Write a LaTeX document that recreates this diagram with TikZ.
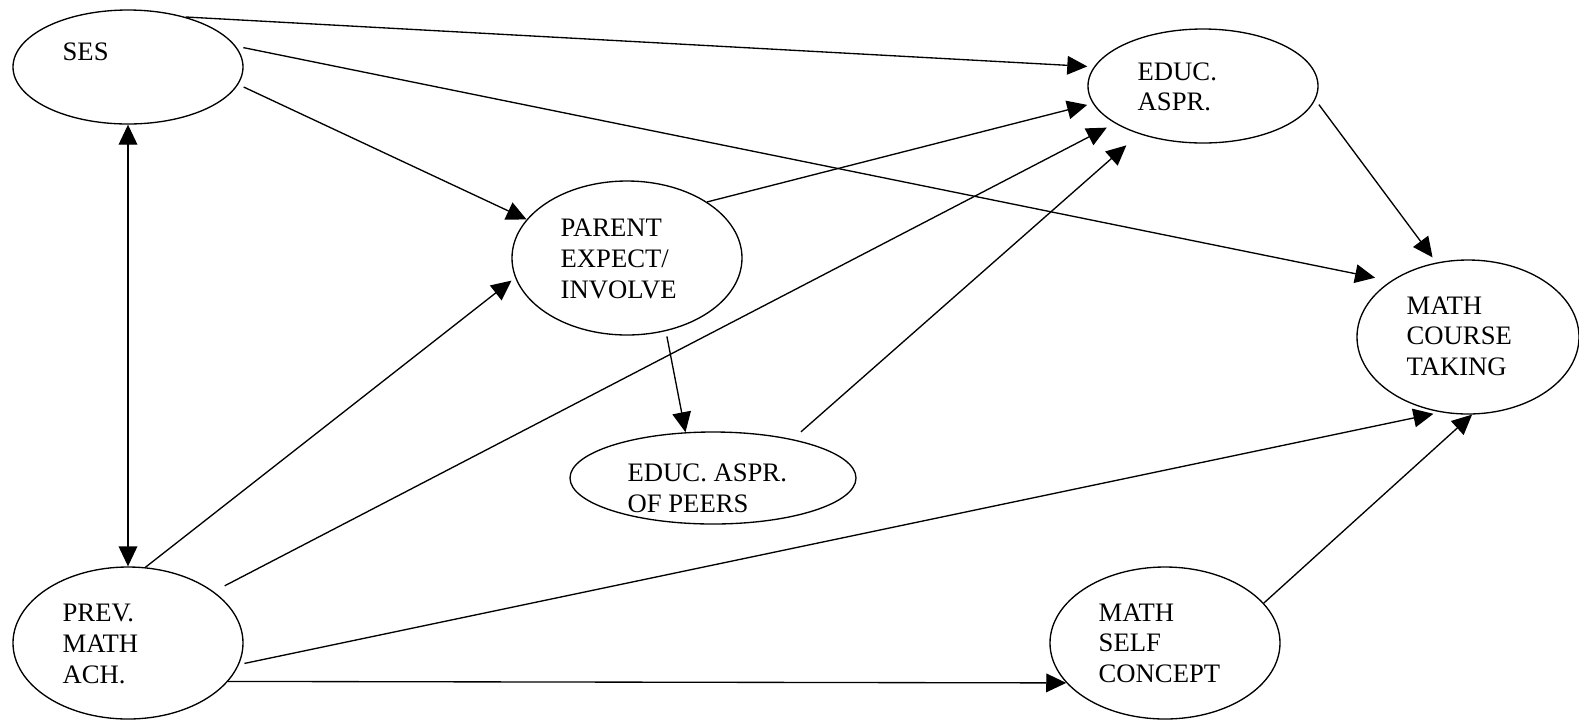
\documentclass[tikz,border=0pt]{standalone}
\usepackage{fontspec}
\setmainfont{Liberation Serif}
\usetikzlibrary{shapes.geometric,arrows.meta}

\tikzset{every picture/.style={line width=1pt}}

\begin{document}
\begin{tikzpicture}[x=0.75pt,y=0.75pt,yscale=-1,xscale=1,
	var/.style={draw,ellipse,inner sep=0pt},
	txt/.style={anchor=west,inner sep=0pt,align=left,font=\fontsize{20}{23}\selectfont},
	link/.style={-{Triangle[length=15pt,width=14pt]}},
	twoway/.style={{Triangle[length=15pt,width=14pt]}-{Triangle[length=15pt,width=14pt]}}]
	\useasboundingbox (0,0) rectangle (1579,719);
	%Ellipses
	\node [var, minimum width=172.5pt, minimum height=85.5pt] (ses) at (128,67) {};
	\node [var, minimum width=172.5pt, minimum height=85.5pt] (educ) at (1203,86) {};
	\node [var, minimum width=172.5pt, minimum height=115.5pt] (parent) at (627,258) {};
	\node [var, minimum width=166.5pt, minimum height=115.5pt] (mct) at (1468,337) {};
	\node [var, minimum width=214.5pt, minimum height=69pt] (peers) at (713,478) {};
	\node [var, minimum width=172.5pt, minimum height=114pt] (prev) at (128,643) {};
	\node [var, minimum width=172.5pt, minimum height=114pt] (msc) at (1165,643) {};
	%Labels
	\node [txt] (t-ses) at (62,52) {SES};
	\node [txt] (t-educ) at (1137,87) {EDUC.\\ASPR.};
	\node [txt] (t-parent) at (560,259) {PARENT\\EXPECT/\\INVOLVE};
	\node [txt] (t-mct) at (1406,336) {MATH\\COURSE\\TAKING};
	\node [txt] (t-peers) at (627,488) {EDUC. ASPR.\\OF PEERS};
	\node [txt] (t-prev) at (62,644) {PREV.\\MATH\\ACH.};
	\node [txt] (t-msc) at (1098,643) {MATH\\SELF\\CONCEPT};
	%Straight Lines
	\draw [link, shorten >=5pt] (ses.41) -- (educ.170);
	\draw [link, shorten <=5.8pt, shorten >=12pt] (ses.11) -- (mct.144);
	\draw [link, shorten <=4.5pt] (ses.-9) -- (parent.159);
	\draw [twoway] (prev.north) -- (ses.south);
	\draw [link, shorten >=3.5pt] (prev.77) -- (parent.190);
	\draw [link, shorten <=9.3pt, shorten >=6.9pt] (prev.31) -- (educ.-157);
	\draw [link, shorten <=4.2pt, shorten >=5.5pt] (prev.-11) -- (mct.-110);
	\draw [link] (prev.-21.6) -- (msc.-158.4);
	\draw [link, shorten >=4.3pt] (parent.35) -- (educ.-171);
	\draw [link, shorten <=4pt] (parent.-62.5) -- (peers.121.6);
	\draw [link, shorten <=8.3pt, shorten >=12.8pt] (peers.26) -- (educ.-143);
	\draw [link, shorten <=4.5pt, shorten >=4.8pt] (educ.-7) -- (mct.113);
	\draw [link] (msc.22.4) -- (mct.-87);
\end{tikzpicture}
\end{document}
